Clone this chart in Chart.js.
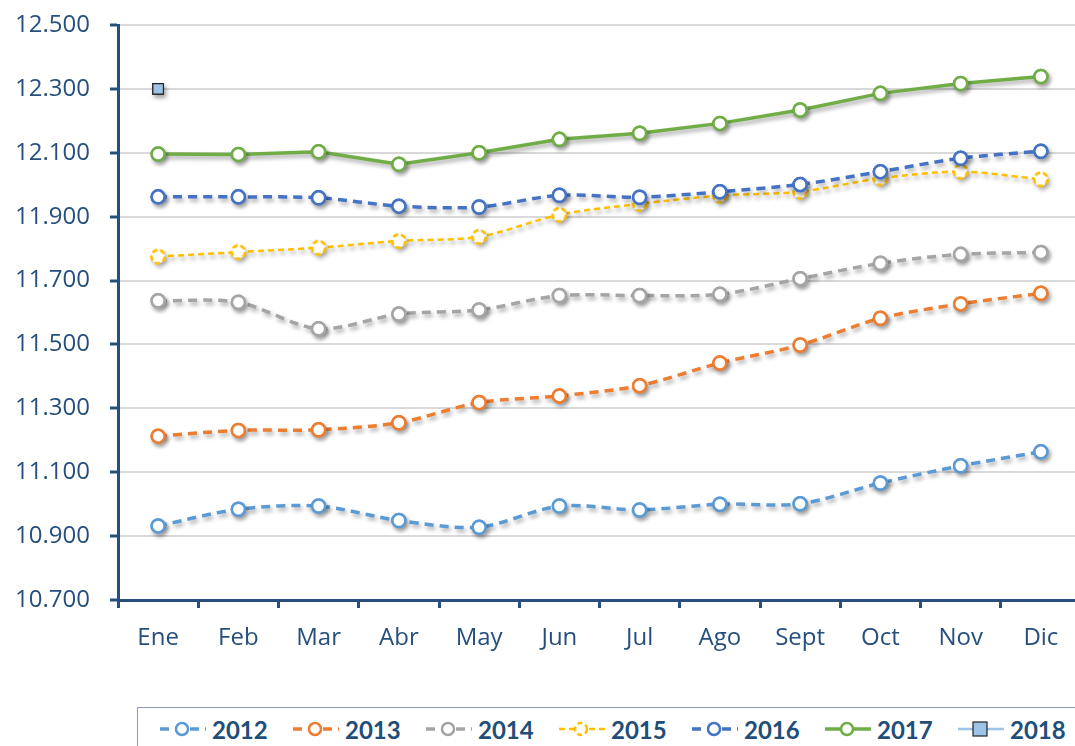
<!DOCTYPE html>
<html>
<head>
<meta charset="utf-8">
<script src="https://cdn.jsdelivr.net/npm/chart.js@4/dist/chart.umd.min.js"></script>
<style>
    html, body { margin: 0; padding: 0; background: #fff; overflow: hidden; }
    #wrap { position: relative; width: 1090px; height: 746px; }
    #box { position: absolute; left: 0; top: 0; width: 1090px; height: 680px; }
    #legend {
        position: absolute; left: 137px; top: 707px; width: 1000px; height: 44px;
        border: 1px solid #8c9db5; box-sizing: border-box;
        display: flex; align-items: center; padding-left: 22px;
        font-family: Lato, 'Open Sans', sans-serif; font-weight: bold; font-size: 24px; color: #1f4e79;
    }
    .item { display: flex; align-items: center; width: 133px; }
    .item svg { margin-right: 6px; }
</style>
</head>
<body>
<div id="wrap">
    <div id="box"><canvas id="Chart"></canvas></div>
    <div id="legend"></div>
</div>
<script>
//Chart data
const months = ['Ene', 'Feb', 'Mar', 'Abr', 'May', 'Jun', 'Jul', 'Ago', 'Sept', 'Oct', 'Nov', 'Dic'];
const years = ['2012', '2013', '2014', '2015', '2016', '2017', '2018'];
const y2012 = [10932, 10984, 10994, 10949, 10928, 10994, 10982, 11000, 11001, 11066, 11120, 11164];
const y2013 = [11213, 11231, 11233, 11255, 11318, 11339, 11371, 11442, 11498, 11582, 11627, 11660];
const y2014 = [11637, 11632, 11549, 11595, 11608, 11653, 11653, 11657, 11706, 11754, 11782, 11788];
const y2015 = [11775, 11789, 11803, 11824, 11837, 11906, 11940, 11966, 11978, 12020, 12041, 12017];
const y2016 = [11962, 11962, 11959, 11933, 11930, 11967, 11961, 11978, 12001, 12041, 12083, 12105];
const y2017 = [12096, 12095, 12103, 12064, 12100, 12142, 12161, 12192, 12234, 12286, 12317, 12339];
const y2018 = [12300, null, null, null, null, null, null, null, null, null, null, null];

const axisColor = '#264f7d';
const font = "'Open Sans', Lato, sans-serif";

/**
 * Formats a number with dots as thousands separators, e.g. 12500 -> '12.500'.
 */
function dotted(v) {
    return String(v).replace(/\B(?=(\d{3})+(?!\d))/g, '.');
}

/**
 * Builds a white circle with a dashed outline, used as the marker of 2015.
 */
function dashedCircle(color) {
    let c = document.createElement('canvas');
    c.width = 18;
    c.height = 18;
    let g = c.getContext('2d');
    g.beginPath();
    g.arc(9, 9, 6.5, 0, Math.PI * 2);
    g.fillStyle = '#fff';
    g.fill();
    g.setLineDash([5, 3]);
    g.lineWidth = 2.5;
    g.strokeStyle = color;
    g.stroke();
    return c;
}

function series(label, data, color, dash, width, order) {
    return {
        label: label,
        data: data,
        borderColor: color,
        backgroundColor: color,
        borderWidth: width,
        borderDash: dash,
        pointRadius: 6.5,
        pointHoverRadius: 6.5,
        pointBorderWidth: 2.5,
        pointBackgroundColor: '#fff',
        pointBorderColor: color,
        tension: dash.length ? 0.3 : 0,
        order: order,
        fill: false
    };
}

let datasets = [
    series(years[0], y2012, '#5b9bd5', [9, 6], 3.5, 6),
    series(years[1], y2013, '#ed7d31', [9, 6], 3.5, 5),
    series(years[2], y2014, '#a5a5a5', [9, 6], 3.5, 4),
    series(years[3], y2015, '#ffc000', [6, 4], 2.5, 3),
    series(years[4], y2016, '#4472c4', [9, 6], 3.5, 2),
    series(years[5], y2017, '#70ad47', [], 3.5, 1),
    series(years[6], y2018, '#9dc3e6', [], 2.5, 0)
];
datasets[3].pointStyle = dashedCircle('#ffc000');
datasets[6].pointStyle = 'rect';
datasets[6].pointRadius = 7.5;
datasets[6].pointBorderWidth = 1.2;
datasets[6].pointBackgroundColor = '#9dc3e6';
datasets[6].pointBorderColor = '#222';

//Points: draw once with the shadow, then again without so the inside stays white
const pointDraw = Chart.PointElement.prototype.draw;
Chart.PointElement.prototype.draw = function (ctx, area) {
    pointDraw.call(this, ctx, area);
    ctx.save();
    ctx.shadowColor = 'rgba(0,0,0,0)';
    pointDraw.call(this, ctx, area);
    ctx.restore();
};

//Soft drop shadow under the series, like the original
const shadow = {
    id: 'shadow',
    beforeDatasetsDraw(chart) {
        chart.ctx.save();
        chart.ctx.shadowColor = 'rgba(0,0,0,0.35)';
        chart.ctx.shadowBlur = 4;
        chart.ctx.shadowOffsetX = 2;
        chart.ctx.shadowOffsetY = 3;
    },
    afterDatasetsDraw(chart) {
        chart.ctx.restore();
    }
};

let config = {
    type: 'line',
    data: { labels: months, datasets: datasets },
    plugins: [shadow],
    options: {
        responsive: true,
        maintainAspectRatio: false,
        animation: false,
        layout: { padding: { top: 25, right: 5, left: 0, bottom: 0 } },
        plugins: { legend: { display: false }, tooltip: { enabled: false } },
        scales: {
            x: {
                offset: true,
                afterFit: function (scale) {
                    scale.height = 80;
                    scale.paddingLeft = 0;
                    scale.paddingRight = 0;
                },
                border: { color: axisColor, width: 3 },
                grid: {
                    offset: true, drawOnChartArea: false, drawTicks: true,
                    tickLength: 8, tickColor: axisColor, tickWidth: 3
                },
                ticks: { color: axisColor, padding: 16, font: { family: font, size: 24 }, maxRotation: 0 }
            },
            y: {
                min: 10700,
                max: 12500,
                afterFit: function (scale) {
                    scale.width = 118;
                    scale.paddingTop = 0;
                    scale.paddingBottom = 0;
                },
                border: { color: axisColor, width: 3 },
                grid: {
                    color: '#d9d9d9', lineWidth: 2, borderDash: [7, 5],
                    drawTicks: true, tickLength: 8, tickColor: axisColor, tickWidth: 3, tickBorderDash: [0, 0]
                },
                ticks: {
                    stepSize: 200, color: axisColor, padding: 20,
                    font: { family: font, size: 24 },
                    callback: function (v) { return dotted(v); }
                }
            }
        }
    }
};

window.myLine = new Chart(document.getElementById('Chart').getContext('2d'), config);

//Legend: line with marker, then the bold year
let legend = document.getElementById('legend');
datasets.forEach(function (ds) {
    let dash = ds.borderDash.join(' ');
    let marker = ds.pointStyle === 'rect'
        ? '<rect x="15" y="3" width="14" height="14" fill="' + ds.pointBackgroundColor + '" stroke="#222" stroke-width="1.2"/>'
        : '<circle cx="22" cy="10" r="6" fill="#fff" stroke="' + ds.borderColor + '" stroke-width="2.5"' +
          (ds.label === '2015' ? ' stroke-dasharray="5 3"' : '') + '/>';
    let item = document.createElement('div');
    item.className = 'item';
    item.innerHTML = '<svg width="46" height="20"><line x1="0" y1="10" x2="46" y2="10" stroke="' + ds.borderColor +
        '" stroke-width="' + ds.borderWidth + '" stroke-dasharray="' + dash + '"/>' + marker + '</svg>';
    let text = document.createElement('span');
    text.textContent = ds.label;
    item.appendChild(text);
    legend.appendChild(item);
});
</script>
</body>
</html>
